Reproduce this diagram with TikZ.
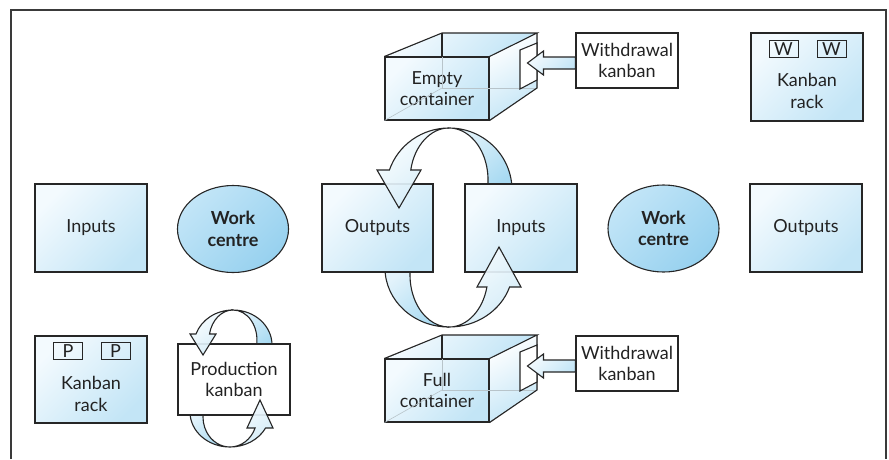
\documentclass[tikz,border=0pt]{standalone}
\usepackage{fontspec}
\setmainfont{Lato}
\usetikzlibrary{calc,shapes.geometric}
\definecolor{ink}{HTML}{262626}
\definecolor{txt}{HTML}{222222}
\definecolor{framec}{HTML}{3A3A3A}
\definecolor{paleA}{HTML}{F3FAFE}
\definecolor{paleB}{HTML}{C3E5F6}
\definecolor{wcA}{HTML}{C2E5F7}
\definecolor{wcB}{HTML}{97D1EF}
\definecolor{bandA}{HTML}{FAFDFF}
\definecolor{bandB}{HTML}{CFEAF7}
\definecolor{backA}{HTML}{E3F3FB}
\definecolor{backB}{HTML}{A8DAF2}
\definecolor{hiddenc}{HTML}{B8C4CA}

% draws an open container: front face node #1 shifted down by #2, with label #3
\newcommand{\drawcrate}[3]{%
  \begin{scope}[shift={(0,#2)}]
    \fill[pale] (385,57) -- (442,33) -- (537,33) -- (489,57) -- cycle;
    \fill[sideface] (489,57) -- (537,33) -- (537,88) -- (489,120) -- cycle;
    \node[face] (#1) at (437,88.5) {#3};
    \draw[hidden] (442,57) -- (442,88) -- (537,88);
    \draw[hidden] (442,88) -- (#1.south west);
    \draw[line] (#1.north west) -- (442,33) -- (537,33) -- (#1.north east);
    \draw[line] (442,33) -- (442,57);
    \draw[line] (537,33) -- (537,88) -- (#1.south east);
    \draw[line, fill=white] (520,50) -- (537,43) -- (537,80) -- (520,89) -- cycle;
  \end{scope}}

% hollow block arrow leaving the west side of kanban card #1
\newcommand{\cardarrow}[1]{%
  \draw[line, pale] ($(#1.west)+(0,-3.5)$) -- ++(-32,0) -- ++(0,-6) -- ++(-16,12)
    -- ++(16,12) -- ++(0,-6) -- ($(#1.west)+(0,8.5)$) -- cycle;}

\begin{document}
\begin{tikzpicture}[x=1pt,y=-1pt,
  font=\fontsize{18}{21.5}\selectfont, text=txt,
  line/.style={draw=ink, line width=1.1pt},
  pale/.style={top color=paleA, bottom color=paleB, shading angle=45},
  sideface/.style={top color=white, bottom color=paleB, shading angle=30},
  box/.style={line, pale, minimum width=112pt, minimum height=88pt, inner sep=0pt, align=center},
  centre/.style={line, ellipse, top color=wcA, bottom color=wcB, shading angle=45,
    minimum width=111pt, minimum height=87pt, inner sep=0pt, align=center, font=\fontsize{18}{21.5}\selectfont\bfseries},
  card/.style={line, fill=white, inner sep=0pt, align=center},
  face/.style={line, pale, minimum width=104pt, minimum height=63pt, inner sep=0pt, align=center},
  tag/.style={line, line width=1pt, minimum width=29pt, minimum height=17pt, inner sep=0pt},
  hidden/.style={draw=hiddenc, line width=0.6pt},
  band/.style={line, top color=bandA, bottom color=bandB, shading angle=40, fill opacity=0.92},
  bandback/.style={line, top color=backA, bottom color=backB, shading angle=40}]

\useasboundingbox (0,0) rectangle (889,459);

% outer frame, open at the bottom
\draw[draw=framec, line width=1.5pt] (11,459) -- (11,10) -- (886,10) -- (886,459);

% far halves of the circulating loops (passing under the boxes)
\draw[bandback] (449,128) arc[start angle=270,end angle=360,x radius=63,y radius=62]
  -- (487.3,190) arc[start angle=11.1,end angle=-90,x radius=39,y radius=52] -- cycle;
\draw[bandback] (385,268) arc[start angle=180,end angle=90,x radius=64,y radius=59]
  arc[start angle=90,end angle=186,x radius=39,y radius=52] -- cycle;
\draw[bandback] (233,310) arc[start angle=270,end angle=360,x radius=39,y radius=35]
  -- (272,350) -- (255.6,350) arc[start angle=19.5,end angle=-90,x radius=24,y radius=30] -- cycle;
\draw[bandback] (190,412) arc[start angle=180,end angle=90,x radius=40,y radius=35]
  arc[start angle=90,end angle=190,x radius=27,y radius=30] -- cycle;

% main flow
\node[box] (in1) at (91,228) {Inputs};
\node[centre] (wc1) at (233,229) {Work\\centre};
\node[box, minimum width=111pt] (out1) at (377.5,228) {Outputs};
\node[box] (in2) at (521,228) {Inputs};
\node[centre] (wc2) at (663.5,228.5) {Work\\centre};
\node[box] (out2) at (806,228) {Outputs};

% production kanban card
\node[card, minimum width=112pt, minimum height=71pt] (pk) at (234,379.5) {Production\\kanban};

% near halves of the loops, with their arrow heads
\draw[band] (389.4,170) arc[start angle=198.8,end angle=270,x radius=63,y radius=62]
  arc[start angle=270,end angle=191.1,x radius=39,y radius=52]
  -- (421,170) -- (399,208) -- (377,170) -- cycle;
\draw[band] (449,327) arc[start angle=90,end angle=18.8,x radius=64,y radius=59]
  -- (521,287) -- (499,247) -- (477,287) -- (486.9,287)
  arc[start angle=13.3,end angle=90,x radius=39,y radius=52] -- cycle;
\draw[band] (196,334) arc[start angle=198.3,end angle=270,x radius=39,y radius=35]
  arc[start angle=270,end angle=191.5,x radius=24,y radius=30]
  -- (216,334) -- (203,355) -- (190,334) -- cycle;
\draw[band] (230,447) arc[start angle=90,end angle=27.2,x radius=40,y radius=35]
  -- (273,428) -- (260,400) -- (247,428) -- (255.1,428)
  arc[start angle=21.5,end angle=90,x radius=27,y radius=30] -- cycle;

% containers with their withdrawal kanbans
\drawcrate{empty}{0}{Empty\\container}
\drawcrate{full}{302}{Full\\container}
\node[card, minimum width=102pt, minimum height=55pt] (wk1) at (627,60.5) {Withdrawal\\kanban};
\node[card, minimum width=102pt, minimum height=55pt] (wk2) at (627,363.5) {Withdrawal\\kanban};
\cardarrow{wk1}
\cardarrow{wk2}

% kanban racks
\node[box] (rackw) at (807,77) {};
\node[tag] (w1) at (783.5,49) {W};
\node[tag] (w2) at (831.5,49) {W};
\node[align=center] (rackwl) at (807,91) {Kanban\\rack};
\node[box, minimum height=87pt] (rackp) at (91,379.5) {};
\node[tag] (p1) at (68,351) {P};
\node[tag] (p2) at (115.5,351) {P};
\node[align=center] (rackpl) at (91,394) {Kanban\\rack};
\end{tikzpicture}
\end{document}
